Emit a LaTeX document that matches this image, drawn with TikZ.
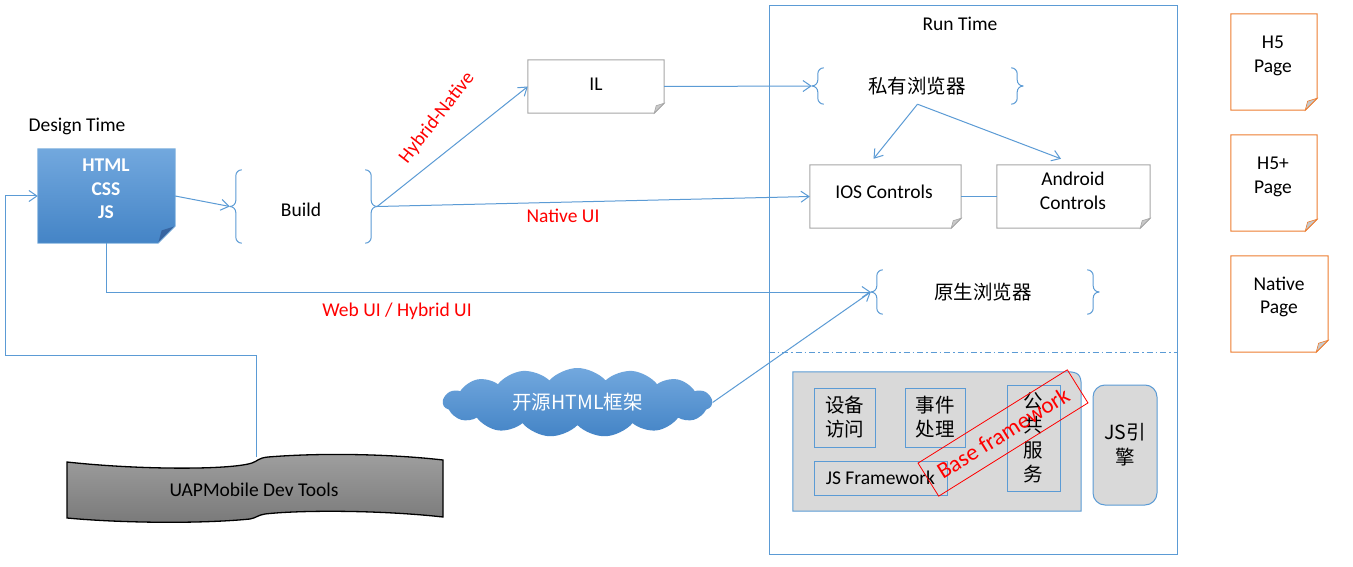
\documentclass[tikz,border=0pt]{standalone}
\usepackage{fontspec}
\setmainfont{Carlito}
\newfontfamily\cjk{Noto Sans CJK SC}
\usetikzlibrary{arrows.meta,shapes.symbols,calc}
\definecolor{lblue}{RGB}{91,155,213}
\definecolor{boxgray}{RGB}{166,166,166}
\definecolor{lgray}{RGB}{217,217,217}
\definecolor{foldgray}{RGB}{200,200,200}
\definecolor{orng}{RGB}{237,125,49}
\definecolor{bluetop}{RGB}{114,168,222}
\definecolor{bluebot}{RGB}{68,132,198}
\definecolor{bluefold}{RGB}{55,100,160}
\pgfdeclarelayer{bg}
\pgfsetlayers{bg,main}
\newcommand\foldshape[5]{% name, fold, draw, fill, foldfill
  \path[draw=#3,line width=1pt,fill=#4] (#1.north west) -- (#1.north east) -- ([yshift=#2]#1.south east) -- ([xshift=-#2]#1.south east) -- (#1.south west) -- cycle;
  \path[draw=#3,line width=0.6pt,fill=#5] ([yshift=#2]#1.south east) -- ([xshift=-#2]#1.south east) -- ([xshift=-0.8*#2,yshift=0.75*#2]#1.south east) -- cycle;}
\newcommand\bracepair[2]{%
  \draw[brc,rounded corners=#2] ([xshift=2*#2]#1.north west) -- ([xshift=#2]#1.north west) -- ([xshift=#2]#1.west) -- (#1.west);
  \draw[brc,rounded corners=#2] ([xshift=2*#2]#1.south west) -- ([xshift=#2]#1.south west) -- ([xshift=#2]#1.west) -- (#1.west);
  \draw[brc,rounded corners=#2] ([xshift=-2*#2]#1.north east) -- ([xshift=-#2]#1.north east) -- ([xshift=-#2]#1.east) -- (#1.east);
  \draw[brc,rounded corners=#2] ([xshift=-2*#2]#1.south east) -- ([xshift=-#2]#1.south east) -- ([xshift=-#2]#1.east) -- (#1.east);}
\begin{document}
\begin{tikzpicture}[x=1pt,y=-1pt,
  font=\fontsize{19.5}{23.5}\selectfont,
  conn/.style={draw=lblue,line width=1pt},
  arr/.style={conn,-{Straight Barb[length=8pt,width=11pt]}},
  brc/.style={draw=lblue,line width=1pt},
  box/.style={inner sep=0pt,align=center},
  inbox/.style={box,draw=lblue,line width=1pt,fill=lgray},
  redlab/.style={text=red,inner sep=0pt},
  lab/.style={inner sep=0pt}]
\useasboundingbox (0,0) rectangle (1353,567);
\begin{pgfonlayer}{bg}
  \fill[white] (0,0) rectangle (1353,567);
\end{pgfonlayer}

% design time
\node[lab] (design) at (77,126) {Design Time};
\node[box,minimum width=137pt,minimum height=94pt] (html) at (106.5,196) {};
\node[lab,align=center,text=white,font=\fontsize{19.5}{23.5}\selectfont\bfseries] (htmlt) at (106,189) {HTML\\CSS\\JS};
\node[box,minimum width=147pt,minimum height=73pt] (build) at (303.5,206.5) {};
\node[lab] (buildt) at (301,210) {Build};
\node[box,minimum width=136pt,minimum height=53pt] (il) at (596,86.5) {};
\node[lab] (ilt) at (596,84) {IL};

% run time
\node[box,draw=lblue,line width=1pt,minimum width=408pt,minimum height=548pt] (runtime) at (973,280) {};
\node[lab] (rtt) at (960,24) {Run Time};
\node[box,minimum width=211pt,minimum height=36pt] (sy) at (917.5,86) {};
\node[lab,font=\fontsize{19.5}{23.5}\selectfont\cjk] (syt) at (917,86) {私有浏览器};
\node[box,minimum width=151pt,minimum height=63pt] (ios) at (885.5,196.5) {};
\node[lab] (iost) at (884,192) {IOS Controls};
\node[box,minimum width=153pt,minimum height=63pt] (andr) at (1073.5,196.5) {};
\node[lab,align=center] (andrt) at (1073,191) {Android\\Controls};
\node[box,minimum width=228pt,minimum height=44pt] (yuan) at (985,292) {};
\node[lab,font=\fontsize{19.5}{23.5}\selectfont\cjk] (yuant) at (983,292) {原生浏览器};
\draw[draw=lblue,line width=1pt,dash pattern=on 6pt off 3pt on 1.5pt off 3pt] (runtime.west |- 0,352) -- (runtime.east |- 0,352);

% base framework
\node[box,minimum width=288pt,minimum height=139pt] (base) at (937,441.5) {};
\begin{pgfonlayer}{bg}
  \path[draw=lblue,line width=1pt,fill=lgray] (base.south west) -- (base.north west) -- ([xshift=-14pt]base.north east) .. controls ([xshift=-3pt]base.north east) and ([yshift=-3pt]base.north east) .. ([yshift=-14pt]base.north east) -- (base.south east) -- cycle;
\end{pgfonlayer}
\node[inbox,minimum width=61pt,minimum height=59pt,font=\fontsize{19.5}{24}\selectfont\cjk] (shebei) at (844.5,417.5) {设备\\访问};
\node[inbox,minimum width=60pt,minimum height=59pt,font=\fontsize{19.5}{24}\selectfont\cjk] (shijian) at (935,417.5) {事件\\处理};
\node[inbox,minimum width=53pt,minimum height=106pt,font=\fontsize{19.5}{24.5}\selectfont\cjk] (gonggong) at (1033.5,438) {公\\共\\服\\务};
\node[inbox,minimum width=133pt,minimum height=34pt] (jsfw) at (880.5,478) {JS Framework};
\node[inbox,rounded corners=12pt,minimum width=64pt,minimum height=120pt,font=\fontsize{19.5}{25}\selectfont\cjk] (jsyq) at (1125,445) {JS引\\擎};
\node[box,draw=red,line width=0.8pt,text=red,rotate=32,minimum width=176pt,minimum height=39pt,font=\fontsize{23}{26}\selectfont] (basefw) at (1003,433) {Base framework};

% cloud
\node[cloud,cloud puffs=15,cloud puff arc=95,aspect=3.9,inner sep=0pt,minimum width=269pt,minimum height=69pt,top color=bluetop,bottom color=bluebot,draw=none,text=white,font=\fontsize{19.5}{23.5}\selectfont\cjk] (cloud) at (577.5,402.5) {开源HTML框架};

% UAP wave
\node[lab] (uap) at (254,490) {UAPMobile Dev Tools};
\begin{pgfonlayer}{bg}
  \path[draw=black,line width=1.3pt,top color=gray!75,bottom color=gray!95!black] (67,462) .. controls (140,470) and (230,470) .. (252,463) .. controls (258,461) and (258,458) .. (268,457) .. controls (330,452) and (400,455) .. (443,460) -- (443,517) .. controls (380,510) and (300,510) .. (265,514) .. controls (258,515) and (256,518) .. (250,519) .. controls (200,524) and (120,523) .. (67,518) -- cycle;
\end{pgfonlayer}
\coordinate (uaptop) at (256,457);

% pages
\node[box,minimum width=86pt,minimum height=96pt] (h5) at (1274,62) {};
\node[lab,align=center] (h5t) at (1273,56) {H5\\Page};
\node[box,minimum width=86pt,minimum height=96pt] (h5p) at (1274,183) {};
\node[lab,align=center] (h5pt) at (1273,177) {H5+\\Page};
\node[box,minimum width=97pt,minimum height=96pt] (nat) at (1279.5,304) {};
\node[lab,align=center] (natt) at (1279,297) {Native\\Page};

\begin{pgfonlayer}{bg}
  \shade[top color=bluetop,bottom color=bluebot] (html.north west) -- (html.north east) -- ([yshift=17pt]html.south east) -- ([xshift=-17pt]html.south east) -- (html.south west) -- cycle;
  \path[fill=bluefold] ([yshift=17pt]html.south east) -- ([xshift=-17pt]html.south east) -- ([xshift=-13.6pt,yshift=12.75pt]html.south east) -- cycle;
  \draw[lblue!80,line width=0.8pt] (html.north west) -- (html.north east) -- ([yshift=17pt]html.south east) -- ([xshift=-17pt]html.south east) -- (html.south west) -- cycle;
  \foldshape{il}{10pt}{boxgray}{white}{foldgray}
  \foldshape{ios}{10pt}{boxgray}{white}{foldgray}
  \foldshape{andr}{10pt}{boxgray}{white}{foldgray}
  \foldshape{h5}{12pt}{orng}{white}{foldgray}
  \foldshape{h5p}{12pt}{orng}{white}{foldgray}
  \foldshape{nat}{12pt}{orng}{white}{foldgray}
\end{pgfonlayer}

\bracepair{build}{6pt}
\bracepair{sy}{6pt}
\bracepair{yuan}{6pt}

% connectors
\draw[arr] (html.east) -- (build.west);
\draw[arr] (build.east) -- (il.west);
\draw[arr] (build.east) -- (ios.west);
\draw[arr] (il.east) -- (sy.west);
\draw[arr] (sy.south) -- ([xshift=-12pt,yshift=6pt]ios.north);
\draw[arr] (sy.south) -- ([xshift=-12.5pt,yshift=6pt]andr.north);
\draw[conn] (ios.east) -- (andr.west);
\draw[arr] (html.south) |- (yuan.west);
\draw[arr] (cloud.east) -- (yuan.west);
\draw[arr] (uaptop) |- (5,355) |- (html.west);

\node[redlab,rotate=52] (hn) at (437,118) {Hybrid-Native};
\node[redlab] (nui) at (563,216) {Native UI};
\node[redlab] (wui) at (397,311) {Web UI / Hybrid UI};
\end{tikzpicture}
\end{document}
